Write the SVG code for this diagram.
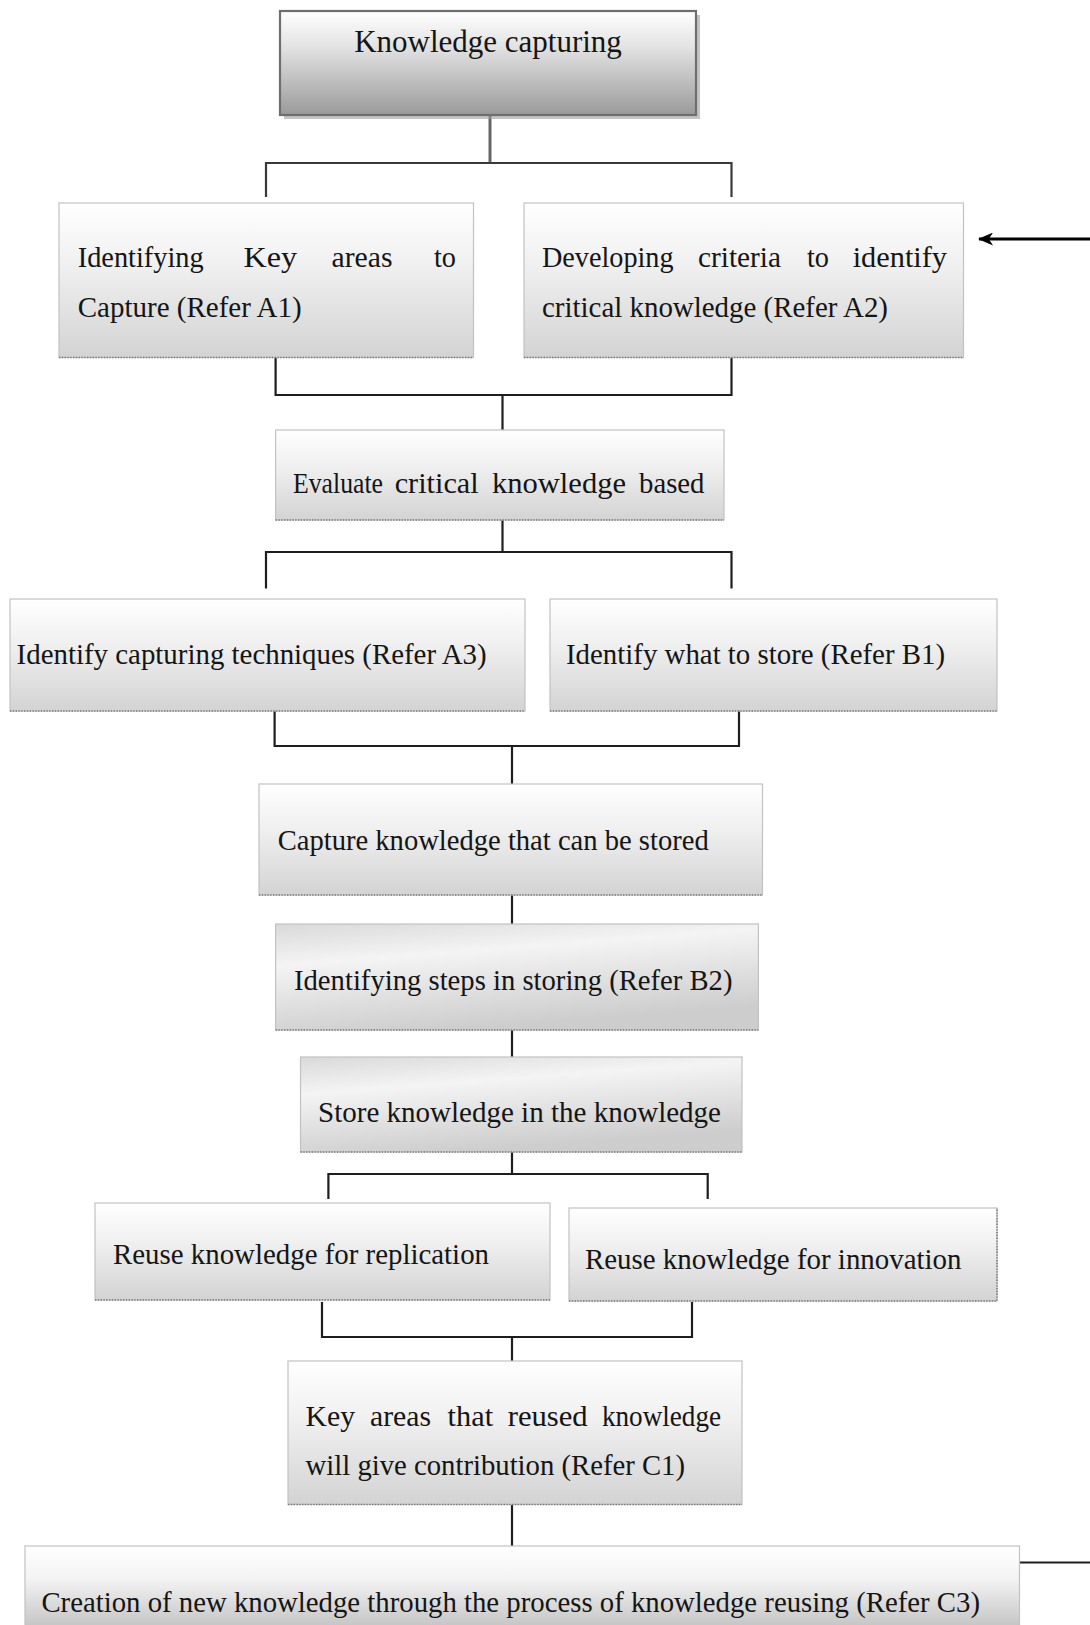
<svg xmlns="http://www.w3.org/2000/svg" width="1090" height="1625" viewBox="0 0 1090 1625">
<defs>
<linearGradient id="gTitle" x1="0" y1="0" x2="0" y2="1">
<stop offset="0" stop-color="#ffffff"/>
<stop offset="0.35" stop-color="#e2e2e2"/>
<stop offset="1" stop-color="#9a9a9a"/>
</linearGradient>
<linearGradient id="gBox" x1="0" y1="0" x2="0" y2="1">
<stop offset="0" stop-color="#ffffff"/>
<stop offset="0.4" stop-color="#f0f0f0"/>
<stop offset="1" stop-color="#d3d3d3"/>
</linearGradient>
<linearGradient id="gDiag" x1="0" y1="0" x2="0.35" y2="1">
<stop offset="0" stop-color="#d9d9d9"/>
<stop offset="0.35" stop-color="#f4f4f4"/>
<stop offset="1" stop-color="#cdcdcd"/>
</linearGradient>
<linearGradient id="gBottom" x1="0" y1="0" x2="0" y2="1">
<stop offset="0" stop-color="#ffffff"/>
<stop offset="0.3" stop-color="#f3f3f3"/>
<stop offset="1" stop-color="#a8a8a8"/>
</linearGradient>
<marker id="arr" viewBox="0 0 14 12" refX="13" refY="6" markerWidth="16" markerHeight="13" orient="auto" markerUnits="userSpaceOnUse">
<path d="M0,0 L14,6 L0,12 L4,6 Z" fill="#000"/>
</marker>
</defs>
<style>
text{font-family:"Liberation Serif","Times New Roman",serif;fill:#151515;font-size:30px}
.title{font-size:31px}
.box{stroke:#c2c2c2;stroke-width:1.2}
.dot{stroke:#7a7a7a;stroke-width:1.6;stroke-dasharray:1.4 1.4;fill:none}
.ln{stroke:#1e1e1e;stroke-width:2.2;fill:none}
</style>
<rect width="1090" height="1625" fill="#ffffff"/>

<g id="connectors">
<path class="ln" d="M490,116 V163" style="stroke:#666;stroke-width:3"/>
<path class="ln" d="M266,197 V163 H731.5 V197" style="stroke:#3a3a3a"/>
<path class="ln" d="M275.6,357.5 V395 H731.5 V357.5 M502.5,395 V430"/>
<path class="ln" d="M502.5,520 V552 M266,588.5 V552 H731.5 V588.5"/>
<path class="ln" d="M274.6,711 V746 H739 V711 M512,746 V784"/>
<path class="ln" d="M512,895 V924"/>
<path class="ln" d="M512,1030 V1057"/>
<path class="ln" d="M512,1152 V1174 M328.4,1199 V1174 H707.7 V1199"/>
<path class="ln" d="M322,1302 V1337 H692 V1302 M512,1337 V1361"/>
<path class="ln" d="M512,1504.5 V1546"/>
<path class="ln" d="M1090,239 H979" marker-end="url(#arr)" style="stroke:#000;stroke-width:3"/>
<path class="ln" d="M1019.5,1562.5 H1090"/>
</g>

<g id="n-title">
<rect x="284" y="15" width="416" height="104" fill="#9c9c9c" opacity="0.6"/>
<rect x="280" y="11" width="416" height="104" fill="url(#gTitle)" stroke="#6e6e6e" stroke-width="2.2"/>
<text class="title" x="488" y="52" text-anchor="middle">Knowledge capturing</text>
</g>

<g id="n-a1">
<rect class="box" x="59" y="203" width="414.5" height="154.5" fill="url(#gBox)"/>
<path class="dot" d="M59,357.5 H473.5"/>
<text x="77.7" y="267" textLength="126" lengthAdjust="spacingAndGlyphs">Identifying</text>
<text x="243.5" y="267" textLength="53.5" lengthAdjust="spacingAndGlyphs">Key</text>
<text x="331.5" y="267" textLength="61" lengthAdjust="spacingAndGlyphs">areas</text>
<text x="434" y="267" textLength="22" lengthAdjust="spacingAndGlyphs">to</text>
<text x="77.7" y="317" textLength="224" lengthAdjust="spacingAndGlyphs">Capture (Refer A1)</text>
</g>

<g id="n-a2">
<rect class="box" x="524" y="203" width="439.5" height="154.5" fill="url(#gBox)"/>
<path class="dot" d="M524,357.5 H963.5"/>
<text x="542" y="267" textLength="131.5" lengthAdjust="spacingAndGlyphs">Developing</text>
<text x="698" y="267" textLength="83" lengthAdjust="spacingAndGlyphs">criteria</text>
<text x="807" y="267" textLength="22" lengthAdjust="spacingAndGlyphs">to</text>
<text x="852.7" y="267" textLength="94.3" lengthAdjust="spacingAndGlyphs">identify</text>
<text x="542" y="317" textLength="346" lengthAdjust="spacingAndGlyphs">critical knowledge (Refer A2)</text>
</g>

<g id="n-eval">
<rect class="box" x="275.6" y="430" width="448.4" height="90" fill="url(#gBox)"/>
<path class="dot" d="M275.6,520 H724"/>
<text x="293" y="493" textLength="90" lengthAdjust="spacingAndGlyphs">Evaluate</text>
<text x="394.7" y="493" textLength="84" lengthAdjust="spacingAndGlyphs">critical</text>
<text x="492" y="493" textLength="134" lengthAdjust="spacingAndGlyphs">knowledge</text>
<text x="639" y="493" textLength="65.5" lengthAdjust="spacingAndGlyphs">based</text>
</g>

<g id="n-a3">
<rect class="box" x="10" y="599" width="515" height="112" fill="url(#gBox)"/>
<path class="dot" d="M10,711 H525"/>
<text x="16.6" y="664" textLength="470" lengthAdjust="spacingAndGlyphs">Identify capturing techniques (Refer A3)</text>
</g>

<g id="n-b1">
<rect class="box" x="550" y="599" width="447" height="112" fill="url(#gBox)"/>
<path class="dot" d="M550,711 H997"/>
<text x="566" y="664" textLength="379" lengthAdjust="spacingAndGlyphs">Identify what to store (Refer B1)</text>
</g>

<g id="n-capture">
<rect class="box" x="259" y="784" width="503.5" height="111" fill="url(#gBox)"/>
<path class="dot" d="M259,895 H762.5"/>
<text x="277.7" y="849.6" textLength="431" lengthAdjust="spacingAndGlyphs">Capture knowledge that can be stored</text>
</g>

<g id="n-b2">
<rect class="box" x="275.6" y="924" width="482.8" height="106" fill="url(#gDiag)"/>
<path class="dot" d="M275.6,1030 H758.4"/>
<text x="294" y="989.5" textLength="438.5" lengthAdjust="spacingAndGlyphs">Identifying steps in storing (Refer B2)</text>
</g>

<g id="n-store">
<rect class="box" x="300.5" y="1057" width="441.5" height="95" fill="url(#gDiag)"/>
<path class="dot" d="M300.5,1152 H742"/>
<text x="318" y="1122" textLength="403" lengthAdjust="spacingAndGlyphs">Store knowledge in the knowledge</text>
</g>

<g id="n-replication">
<rect class="box" x="95" y="1203" width="455" height="97" fill="url(#gBox)"/>
<path class="dot" d="M95,1300 H550"/>
<text x="113" y="1264" textLength="376" lengthAdjust="spacingAndGlyphs">Reuse knowledge for replication</text>
</g>

<g id="n-innovation">
<rect class="box" x="569" y="1208" width="428" height="93" fill="url(#gBox)"/>
<path class="dot" d="M569,1301 H997 V1208"/>
<text x="585" y="1269" textLength="376.5" lengthAdjust="spacingAndGlyphs">Reuse knowledge for innovation</text>
</g>

<g id="n-c1">
<rect class="box" x="288" y="1361" width="454" height="143.5" fill="url(#gBox)"/>
<path class="dot" d="M288,1504.5 H742"/>
<text x="305.6" y="1426" textLength="49.5" lengthAdjust="spacingAndGlyphs">Key</text>
<text x="370" y="1426" textLength="61" lengthAdjust="spacingAndGlyphs">areas</text>
<text x="447.6" y="1426" textLength="45.5" lengthAdjust="spacingAndGlyphs">that</text>
<text x="507.7" y="1426" textLength="80" lengthAdjust="spacingAndGlyphs">reused</text>
<text x="602" y="1426" textLength="119" lengthAdjust="spacingAndGlyphs">knowledge</text>
<text x="305.6" y="1475" textLength="379.4" lengthAdjust="spacingAndGlyphs">will give contribution (Refer C1)</text>
</g>

<g id="n-c3">
<rect class="box" x="25" y="1546" width="994.5" height="110" fill="url(#gBottom)"/>
<text x="41.4" y="1612" textLength="938.6" lengthAdjust="spacingAndGlyphs">Creation of new knowledge through the process of knowledge reusing (Refer C3)</text>
</g>
</svg>
